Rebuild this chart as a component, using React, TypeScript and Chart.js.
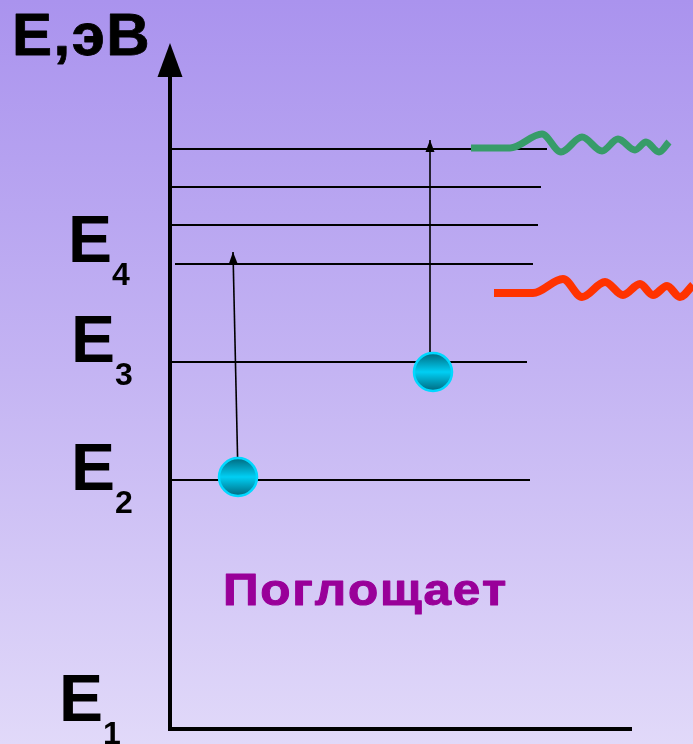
import React, { useEffect, useRef } from "react";
import { Chart, registerables } from "chart.js";

Chart.register(...registerables);

const W = 693;
const H = 744;

// Energy scale (arbitrary units), 0 = horizontal axis
const Y_MIN = -15;
const Y_MAX = 729;

// Energy levels drawn as horizontal lines (value, x-start, x-end)
const levelValues = [580, 542, 504, 465, 367, 249];
const levelStarts = [172, 172, 172, 175, 172, 172];
const levelEnds = [547, 541, 538, 533, 527, 530];

// Level labels (y-axis "tick" labels)
const levelLabels = ["E", "E", "E", "E"];
const levelSubs = ["1", "2", "3", "4"];
const levelLabelValues = [0, 249, 367, 465];

// Electrons
const electronX = [238, 433];
const electronY = [252, 357];

// Transitions (absorption arrows): start -> tip
const arrow1X = [238, 233];
const arrow1Y = [252, 477];
const arrow2X = [430, 430];
const arrow2Y = [357, 589];

// Emitted / absorbed photons (wavy lines)
const greenWaveX = [471, 510, 542, 561, 582, 602, 618, 635, 646, 659, 669];
const greenWaveY = [581, 581, 595, 577, 592, 578, 590, 579, 587, 577, 587];
const redWaveX = [494, 533, 563, 582, 605, 623, 640, 653, 667, 680, 693];
const redWaveY = [436, 436, 450, 432, 447, 434, 445, 434, 443, 432, 444];

// Axes
const axisX = 170;
const axisTop = 652;
const hAxisX = [168, 632];

const axisTitle = "E,эВ";
const caption = "Поглощает";

const FONT = '"Liberation Sans", Arial, sans-serif';

const pts = (xs: number[], ys: number[]) => xs.map((x, i) => ({ x, y: ys[i] }));

const bgPlugin = {
  id: "bg",
  beforeDraw(chart: any) {
    const { ctx, width, height } = chart;
    const g = ctx.createLinearGradient(0, 0, 0, height);
    g.addColorStop(0, "#aa93ee");
    g.addColorStop(0.5, "#c4b4f3");
    g.addColorStop(1, "#e1d9f9");
    ctx.save();
    ctx.fillStyle = g;
    ctx.fillRect(0, 0, width, height);
    ctx.restore();
  },
};

const arrowPlugin = {
  id: "arrowheads",
  afterDatasetsDraw(chart: any) {
    const ctx = chart.ctx;
    chart.data.datasets.forEach((ds: any, i: number) => {
      if (!ds.head) return;
      const meta = chart.getDatasetMeta(i);
      const n = meta.data.length;
      if (n < 2) return;
      const a = meta.data[n - 2];
      const b = meta.data[n - 1];
      const dx = b.x - a.x;
      const dy = b.y - a.y;
      const L = Math.hypot(dx, dy) || 1;
      const ux = dx / L;
      const uy = dy / L;
      const { len, width, beyond } = ds.head;
      const tipX = beyond ? b.x + ux * len : b.x;
      const tipY = beyond ? b.y + uy * len : b.y;
      const bx = tipX - ux * len;
      const by = tipY - uy * len;
      const px = -uy;
      const py = ux;
      ctx.save();
      ctx.fillStyle = ds.borderColor;
      ctx.beginPath();
      ctx.moveTo(tipX, tipY);
      ctx.lineTo(bx + (px * width) / 2, by + (py * width) / 2);
      ctx.lineTo(bx - (px * width) / 2, by - (py * width) / 2);
      ctx.closePath();
      ctx.fill();
      ctx.restore();
    });
  },
};

// per-label layout (text x, baseline offset from level in px)
const labelLayout = [
  { x: 59, dy: -8 },
  { x: 71, dy: 10 },
  { x: 71, dy: 0 },
  { x: 68, dy: -2 },
];

function spacedText(ctx: any, text: string, x: number, y: number, spacing: number, sx = 1, stroke = 0) {
  ctx.save();
  ctx.translate(x, y);
  ctx.scale(sx, 1);
  let cx = 0;
  for (const ch of text) {
    ctx.fillText(ch, cx, 0);
    if (stroke > 0) {
      ctx.lineWidth = stroke;
      ctx.strokeStyle = ctx.fillStyle;
      ctx.lineJoin = "round";
      ctx.strokeText(ch, cx, 0);
    }
    cx += ctx.measureText(ch).width + spacing;
  }
  ctx.restore();
}

const textPlugin = {
  id: "texts",
  afterDraw(chart: any) {
    const ctx = chart.ctx;
    const ys = chart.scales.y;
    ctx.save();
    ctx.fillStyle = "#000";
    ctx.textBaseline = "alphabetic";
    ctx.textAlign = "left";
    ctx.font = `bold 60px ${FONT}`;
    spacedText(ctx, axisTitle, 12, 55, 1.5, 1, 0.8);
    levelLabelValues.forEach((v, i) => {
      const base = ys.getPixelForValue(v) + labelLayout[i].dy;
      const x = labelLayout[i].x;
      ctx.font = `bold 66px ${FONT}`;
      ctx.fillText(levelLabels[i], x, base);
      const w = ctx.measureText(levelLabels[i]).width;
      ctx.font = `bold 32px ${FONT}`;
      ctx.fillText(levelSubs[i], x + w, base + 23);
    });
    ctx.fillStyle = "#990099";
    ctx.font = `bold 45px ${FONT}`;
    spacedText(ctx, caption, 223, 605, 1.6, 1.1, 1);
    ctx.restore();
  },
};

export default function App() {
  const ref = useRef<HTMLCanvasElement | null>(null);

  useEffect(() => {
    document.body.style.margin = "0";
    const canvas = ref.current;
    if (!canvas) return;

    const line = (data: any[], color: string, width: number, extra: any = {}) => ({
      type: "line",
      data,
      borderColor: color,
      backgroundColor: color,
      borderWidth: width,
      pointRadius: 0,
      showLine: true,
      fill: false,
      clip: false,
      tension: 0,
      ...extra,
    });

    const datasets: any[] = [];

    datasets.push({
      type: "scatter",
      data: pts(electronX, electronY),
      pointRadius: 19,
      pointBorderWidth: 2.5,
      pointBorderColor: "#00d8ff",
      pointBackgroundColor: (c: any) => {
        const chart = c.chart;
        const raw = c.raw;
        if (!raw || !chart.scales || !chart.scales.y) return "#00c8ec";
        const y = chart.scales.y.getPixelForValue(raw.y);
        if (!isFinite(y)) return "#00c8ec";
        const g = chart.ctx.createLinearGradient(0, y - 20, 0, y + 20);
        g.addColorStop(0, "#006479");
        g.addColorStop(0.5, "#00cff4");
        g.addColorStop(1, "#006479");
        return g;
      },
      clip: false,
      order: 0,
    });

    datasets.push(
      line(pts(greenWaveX, greenWaveY), "#379c69", 7, {
        cubicInterpolationMode: "monotone",
        borderCapStyle: "butt",
        order: 1,
      })
    );
    datasets.push(
      line(pts(redWaveX, redWaveY), "#ff3300", 8, {
        cubicInterpolationMode: "monotone",
        borderCapStyle: "butt",
        order: 1,
      })
    );

    datasets.push(line(pts(arrow1X, arrow1Y), "#000", 1.6, { head: { len: 12, width: 9 }, order: 2 }));
    datasets.push(line(pts(arrow2X, arrow2Y), "#000", 1.6, { head: { len: 12, width: 9 }, order: 2 }));

    levelValues.forEach((v, i) => {
      datasets.push(
        line(
          [
            { x: levelStarts[i], y: v },
            { x: levelEnds[i], y: v },
          ],
          "#000",
          2,
          { order: 3 }
        )
      );
    });

    datasets.push(
      line(
        [
          { x: axisX, y: 0 },
          { x: axisX, y: axisTop },
        ],
        "#000",
        4,
        { head: { len: 34, width: 25, beyond: true }, order: 4 }
      )
    );
    datasets.push(
      line(
        [
          { x: hAxisX[0], y: 0 },
          { x: hAxisX[1], y: 0 },
        ],
        "#000",
        4,
        { order: 4 }
      )
    );

    const chart = new Chart(canvas, {
      type: "scatter",
      data: { datasets },
      options: {
        animation: false,
        responsive: false,
        devicePixelRatio: 1,
        events: [],
        layout: { padding: 0, autoPadding: false },
        plugins: { legend: { display: false }, tooltip: { enabled: false } },
        scales: {
          x: { type: "linear", min: 0, max: W, display: false },
          y: { type: "linear", min: Y_MIN, max: Y_MAX, display: false },
        },
      },
      plugins: [bgPlugin, arrowPlugin, textPlugin],
    } as any);

    return () => chart.destroy();
  }, []);

  return (
    <div style={{ width: W, height: H }}>
      <canvas ref={ref} width={W} height={H} style={{ display: "block", width: W, height: H }} />
    </div>
  );
}
